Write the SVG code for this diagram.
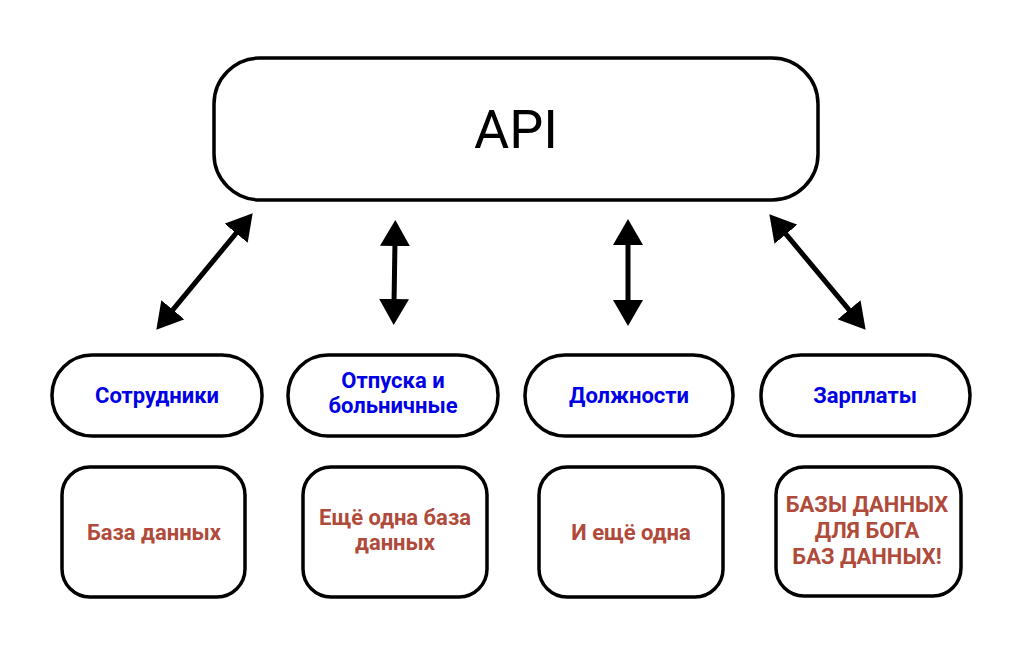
<svg xmlns="http://www.w3.org/2000/svg" width="1033" height="666" viewBox="0 0 1033 666">
<style>
.box{fill:#fff;stroke:#000;stroke-width:3.5}
.api{font-family:Roboto,"Liberation Sans",sans-serif;font-size:54px;fill:#000;text-anchor:middle}
.svc{font-family:Roboto,"Liberation Sans",sans-serif;font-size:22px;font-weight:bold;fill:#0000e6;text-anchor:middle}
.db{font-family:Roboto,"Liberation Sans",sans-serif;font-size:22px;font-weight:bold;fill:#b04a3a;text-anchor:middle}
.conn{stroke:#000;stroke-width:5;fill:none;marker-start:url(#head);marker-end:url(#head)}
</style>
<defs>
<marker id="head" markerUnits="userSpaceOnUse" markerWidth="26" markerHeight="30" viewBox="0 0 26 30" refX="5" refY="15" orient="auto-start-reverse">
<path d="M0,0 L26,15 L0,30 z" fill="#000"/>
</marker>
</defs>
<rect width="1033" height="666" fill="#fff"/>
<g id="connectors">
<path class="conn" d="M239.3,229.4 L169.7,313.6"/>
<path class="conn" d="M395,241 L394,304"/>
<path class="conn" d="M628,240 L628,305"/>
<path class="conn" d="M782.8,230.4 L852.2,313.6"/>
</g>
<g id="api">
<rect class="box" x="214" y="58" width="604" height="142" rx="46"/>
<text class="api" x="516" y="148">API</text>
</g>
<g id="employees">
<rect class="box" x="52" y="355" width="210" height="81" rx="40"/>
<text class="svc" x="157" y="403">Сотрудники</text>
</g>
<g id="leave">
<rect class="box" x="288" y="355" width="210" height="81" rx="40"/>
<text class="svc" x="393" y="388">Отпуска и</text>
<text class="svc" x="393" y="413">больничные</text>
</g>
<g id="positions">
<rect class="box" x="525" y="355" width="208" height="81" rx="40"/>
<text class="svc" x="629" y="403">Должности</text>
</g>
<g id="salaries">
<rect class="box" x="761" y="355" width="209" height="81" rx="40"/>
<text class="svc" x="865" y="403">Зарплаты</text>
</g>
<g id="db1">
<rect class="box" x="62" y="467" width="183" height="130" rx="28"/>
<text class="db" x="154" y="540">База данных</text>
</g>
<g id="db2">
<rect class="box" x="303" y="467" width="184" height="130" rx="28"/>
<text class="db" x="395" y="525">Ещё одна база</text>
<text class="db" x="395" y="550">данных</text>
</g>
<g id="db3">
<rect class="box" x="539" y="467" width="184" height="130" rx="28"/>
<text class="db" x="631" y="540">И ещё одна</text>
</g>
<g id="db4">
<rect class="box" x="776" y="467" width="185" height="129" rx="28"/>
<text class="db" x="867" y="512">БАЗЫ ДАННЫХ</text>
<text class="db" x="867" y="538">ДЛЯ БОГА </text>
<text class="db" x="867" y="564">БАЗ ДАННЫХ!</text>
</g>
</svg>
